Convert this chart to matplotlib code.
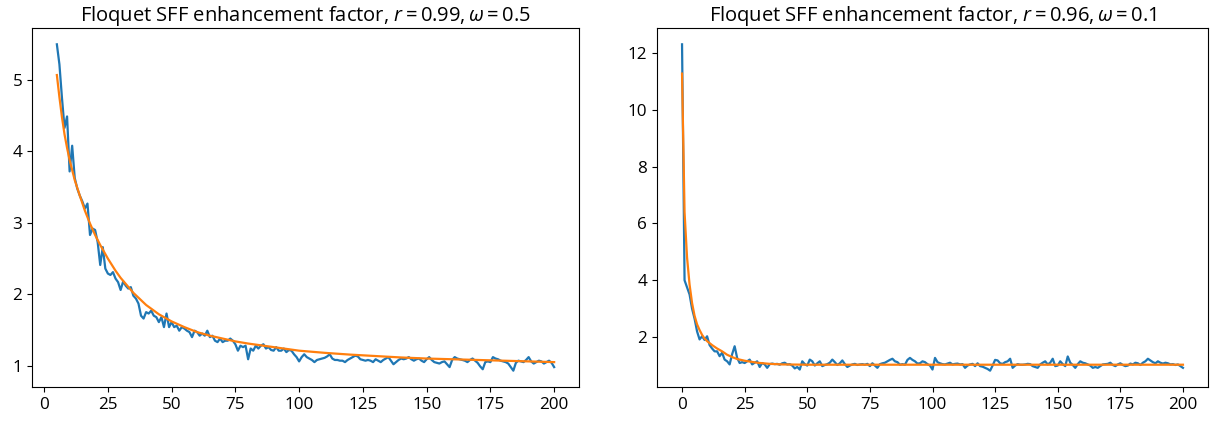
import numpy as np
import matplotlib
matplotlib.use("Agg")
import matplotlib.pyplot as plt

# ---------------- data ----------------
left_start = 5
left_blue = [
    5.50, 5.22, 4.75, 4.33, 4.49, 3.72, 4.08, 3.63, 3.48, 3.38,
    3.30, 3.20, 3.27, 2.83, 2.92, 2.90, 2.73, 2.41, 2.66, 2.36,
    2.29, 2.27, 2.31, 2.22, 2.17, 2.06, 2.18, 2.12, 2.08, 2.10,
    1.98, 1.94, 1.87, 1.70, 1.66, 1.75, 1.73, 1.77, 1.70, 1.68,
    1.61, 1.68, 1.54, 1.73, 1.54, 1.61, 1.54, 1.56, 1.49, 1.54,
    1.52, 1.49, 1.47, 1.40, 1.49, 1.47, 1.42, 1.45, 1.42, 1.49,
    1.40, 1.42, 1.35, 1.33, 1.38, 1.33, 1.35, 1.35, 1.38, 1.35,
    1.30, 1.21, 1.28, 1.26, 1.28, 1.09, 1.24, 1.21, 1.28, 1.24,
    1.28, 1.30, 1.24, 1.26, 1.22, 1.21, 1.26, 1.21, 1.21, 1.24,
    1.19, 1.22, 1.21, 1.16, 1.12, 1.06, 1.12, 1.16, 1.12, 1.10,
    1.08, 1.05, 1.08, 1.09, 1.10, 1.11, 1.13, 1.16, 1.10, 1.08,
    1.08, 1.07, 1.07, 1.05, 1.08, 1.10, 1.12, 1.14, 1.13, 1.09,
    1.08, 1.07, 1.08, 1.07, 1.05, 1.09, 1.07, 1.05, 1.08, 1.10,
    1.12, 1.07, 1.02, 1.05, 1.08, 1.10, 1.09, 1.10, 1.12, 1.09,
    1.07, 1.09, 1.10, 1.07, 1.05, 1.09, 1.12, 1.08, 1.05, 1.04,
    1.03, 1.05, 1.06, 1.02, 0.98, 1.08, 1.12, 1.10, 1.09, 1.08,
    1.07, 1.05, 1.08, 1.10, 1.07, 1.04, 0.99, 0.95, 1.05, 1.06,
    1.05, 1.12, 1.10, 1.09, 1.07, 1.06, 1.05, 1.03, 0.98, 0.93,
    1.04, 1.07, 1.06, 1.05, 1.08, 1.12, 1.06, 1.03, 1.05, 1.07,
    1.06, 1.03, 1.05, 1.07, 1.04, 0.98,
]
left_fit_x = [5, 6, 7, 8, 9, 10, 12, 14, 16, 18, 20, 22, 25, 28, 30, 35, 40,
              45, 50, 55, 60, 65, 70, 75, 80, 90, 100, 110, 120, 130, 140,
              150, 160, 170, 180, 190, 200]
left_fit_y = [5.07, 4.76, 4.48, 4.24, 4.05, 3.88, 3.60, 3.38, 3.17, 2.99,
              2.83, 2.69, 2.50, 2.33, 2.23, 2.02, 1.85, 1.72, 1.62, 1.54,
              1.47, 1.42, 1.38, 1.34, 1.31, 1.26, 1.21, 1.18, 1.155, 1.135,
              1.115, 1.10, 1.09, 1.08, 1.07, 1.06, 1.05]

right_start = 0
right_blue = [
    12.30, 4.00, 3.75, 3.50, 3.00, 2.65, 2.20, 1.92, 2.03, 1.90,
    2.03, 1.72, 1.60, 1.50, 1.50, 1.33, 1.45, 1.21, 1.15, 1.04,
    1.40, 1.68, 1.27, 1.09, 1.12, 1.09, 1.15, 1.21, 1.04, 1.10,
    1.15, 0.95, 1.09, 1.04, 0.92, 1.05, 1.07, 1.05, 1.06, 1.03,
    1.08, 1.10, 1.04, 1.05, 1.00, 0.90, 0.95, 0.86, 1.15, 1.05,
    1.00, 1.21, 1.15, 1.00, 1.08, 1.15, 0.98, 1.02, 1.05, 1.10,
    1.21, 1.12, 1.02, 1.08, 1.18, 1.05, 0.95, 1.00, 1.04, 1.06,
    1.02, 1.04, 1.05, 1.03, 1.06, 0.98, 1.08, 1.00, 0.92, 1.05,
    1.08, 1.10, 1.15, 1.20, 1.24, 1.15, 1.12, 1.03, 1.05, 1.03,
    1.20, 1.27, 1.20, 1.15, 1.07, 1.08, 1.15, 1.12, 1.05, 1.00,
    0.86, 1.27, 1.12, 1.08, 1.05, 1.04, 1.07, 1.10, 1.04, 1.06,
    1.07, 1.04, 1.05, 0.92, 1.00, 1.04, 1.06, 0.98, 1.08, 0.98,
    0.96, 0.92, 0.88, 0.82, 1.00, 1.20, 1.18, 1.08, 1.06, 1.12,
    1.15, 1.24, 0.92, 1.00, 1.05, 1.03, 1.03, 1.04, 1.06, 1.05,
    0.98, 0.95, 0.92, 1.04, 1.10, 1.15, 1.04, 1.10, 1.24, 0.98,
    1.00, 1.15, 1.05, 0.98, 1.32, 1.10, 1.02, 0.92, 1.05, 1.15,
    1.10, 1.08, 1.04, 1.00, 0.92, 0.95, 0.92, 0.98, 1.04, 1.05,
    1.06, 1.10, 1.02, 0.98, 1.04, 1.08, 1.02, 0.98, 1.00, 1.07,
    1.04, 1.10, 1.08, 1.02, 1.10, 1.15, 1.24, 1.18, 1.12, 1.08,
    1.15, 1.10, 1.07, 1.10, 1.08, 1.04, 1.05, 1.02, 1.04, 0.98,
    0.92,
]
right_fit_x = [0, 1, 2, 3, 4, 5, 6, 7, 8, 9, 10, 12, 14, 16, 18, 20, 22, 25,
               30, 35, 40, 50, 75, 100, 150, 200]
right_fit_y = [11.27, 6.40, 4.80, 3.85, 3.20, 2.75, 2.45, 2.25, 2.08, 1.95,
               1.86, 1.72, 1.60, 1.50, 1.38, 1.30, 1.23, 1.17, 1.10, 1.06,
               1.04, 1.03, 1.03, 1.03, 1.03, 1.03]

titles = [r"Floquet SFF enhancement factor, $r = 0.99, \omega = 0.5$",
          r"Floquet SFF enhancement factor, $r = 0.96, \omega = 0.1$"]
left_yticks = [1, 2, 3, 4, 5]
right_yticks = [2, 4, 6, 8, 10, 12]
xticks = [0, 25, 50, 75, 100, 125, 150, 175, 200]

# ---------------- style ----------------
plt.rcParams['font.family'] = ['Open Sans', 'DejaVu Sans']
plt.rcParams['mathtext.fontset'] = 'custom'
plt.rcParams['mathtext.rm'] = 'Open Sans'
plt.rcParams['mathtext.it'] = 'Open Sans:italic'
plt.rcParams['mathtext.bf'] = 'Open Sans:bold'

fig = plt.figure(figsize=(12.11, 4.24), dpi=100)
ax1 = fig.add_axes([32 / 1211, 37 / 424, 547 / 1211, 359 / 424])
ax2 = fig.add_axes([657 / 1211, 37 / 424, 551 / 1211, 359 / 424])

lx = np.arange(left_start, left_start + len(left_blue))
ax1.plot(lx, left_blue, color='C0', lw=1.6)
ax1.plot(left_fit_x, left_fit_y, color='C1', lw=1.6)

rx = np.arange(right_start, right_start + len(right_blue))
ax2.plot(rx, right_blue, color='C0', lw=1.6)
ax2.plot(right_fit_x, right_fit_y, color='C1', lw=1.6)

for ax, t, yt in [(ax1, titles[0], left_yticks), (ax2, titles[1], right_yticks)]:
    ax.set_title(t, fontsize=14.5, pad=4)
    ax.set_xticks(xticks)
    ax.set_yticks(yt)
    ax.tick_params(labelsize=12.3)

fig.savefig("out.png", dpi=100)
